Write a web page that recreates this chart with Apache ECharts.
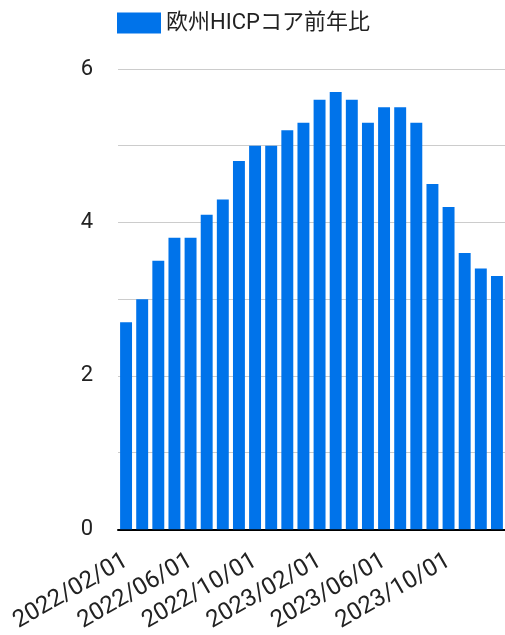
<!DOCTYPE html>
<html>
<head>
<meta charset="utf-8">
<script src="https://cdn.jsdelivr.net/npm/echarts@6/dist/echarts.min.js"></script>
<style>
html,body{margin:0;padding:0;background:#fff;}
#chart{width:505px;height:635px;}
</style>
</head>
<body>
<div id="chart"></div>
<script>
const categories = [
  "2022/02/01","2022/03/01","2022/04/01","2022/05/01","2022/06/01","2022/07/01",
  "2022/08/01","2022/09/01","2022/10/01","2022/11/01","2022/12/01","2023/01/01",
  "2023/02/01","2023/03/01","2023/04/01","2023/05/01","2023/06/01","2023/07/01",
  "2023/08/01","2023/09/01","2023/10/01","2023/11/01","2023/12/01","2024/01/01"
];
const coreHicp = [2.7,3.0,3.5,3.8,3.8,4.1,4.3,4.8,5.0,5.0,5.2,5.3,5.6,5.7,5.6,5.3,5.5,5.5,5.3,4.5,4.2,3.6,3.4,3.3];
const seriesName = "欧州HICPコア前年比";
const yTicks = [0,2,4,6];

const font = "Roboto, 'Noto Sans CJK JP', sans-serif";
const chart = echarts.init(document.getElementById('chart'));
chart.setOption({
  animation: false,
  textStyle: {fontFamily: font},
  legend: {
    left: 112, top: 7,
    itemWidth: 44, itemHeight: 21, itemGap: 8,
    icon: 'rect',
    textStyle: {fontSize: 22, color: '#222', fontFamily: font},
    data: [seriesName]
  },
  grid: {left: 118, right: -5, top: 69, bottom: 104, containLabel: false},
  xAxis: {
    type: 'category',
    data: categories,
    axisTick: {show: false},
    axisLine: {lineStyle: {color: '#000', width: 2}},
    axisLabel: {interval: 3, rotate: 30, fontSize: 24, color: '#222', margin: 30, fontFamily: font}
  },
  yAxis: {
    type: 'value', min: 0, max: 6, interval: 1,
    axisLine: {show: false}, axisTick: {show: false},
    splitLine: {lineStyle: {color: '#cccccc', width: 1}},
    axisLabel: {
      fontSize: 22, color: '#222', margin: 25, fontFamily: font,
      formatter: v => yTicks.includes(v) ? String(v) : ''
    }
  },
  series: [{
    name: seriesName,
    type: 'bar',
    data: coreHicp,
    barCategoryGap: '26%',
    itemStyle: {color: '#0073EA'}
  }]
});
</script>
</body>
</html>
